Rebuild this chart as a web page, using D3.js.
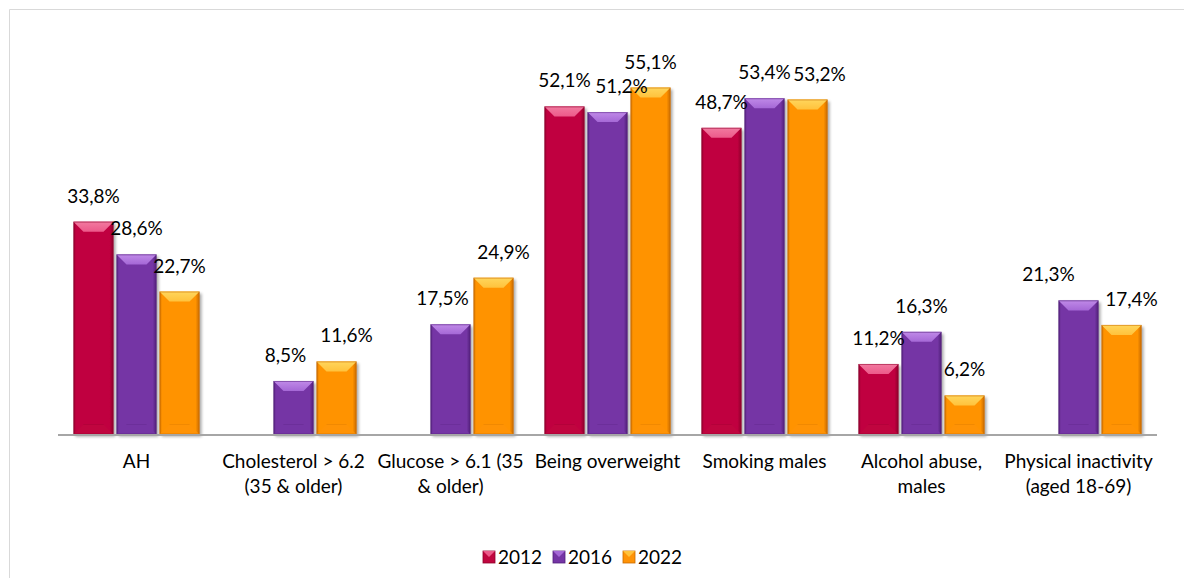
<!DOCTYPE html>
<html>
<head>
<meta charset="utf-8">
<script src="https://cdn.jsdelivr.net/npm/d3@7"></script>
<style>
  html, body { margin: 0; padding: 0; background: #fff; }
  svg { display: block; font-family: Lato, "Open Sans", sans-serif; }
</style>
</head>
<body>
<svg id="chart" width="1184" height="578"></svg>
<script>
// Risk factor prevalence by survey year
const categories = [
  "AH",
  "Cholesterol > 6.2\n(35 & older)",
  "Glucose > 6.1 (35\n& older)",
  "Being overweight",
  "Smoking males",
  "Alcohol abuse,\nmales",
  "Physical inactivity\n(aged 18-69)"
];
const years = ["2012", "2016", "2022"];
const values2012 = [33.8, null, null, 52.1, 48.7, 11.2, null];
const values2016 = [28.6, 8.5, 17.5, 51.2, 53.4, 16.3, 21.3];
const values2022 = [22.7, 11.6, 24.9, 55.1, 53.2, 6.2, 17.4];

// Horizontal nudges so neighbouring value labels don't collide
const labelShift2012 = [0, 0, 0, 0, 0, 0, 0];
const labelShift2016 = [0, -8, -8, 14, 0, 0, -30];
const labelShift2022 = [0, 10, 10, 0, 12, 0, 10];

const seriesValues = [values2012, values2016, values2022];
const labelShift = [labelShift2012, labelShift2016, labelShift2022];

const palette = {
  "2012": { face: "#c0063f", light: "#ec5a8a", dark: "#8e002c", top: "#f27aa0" },
  "2016": { face: "#7535a5", light: "#a568d6", dark: "#52207a", top: "#c08ae8" },
  "2022": { face: "#ff9306", light: "#ffc23c", dark: "#c86a00", top: "#ffd65c" }
};

const svg = d3.select("#chart");
const defs = svg.append("defs");

defs.append("filter").attr("id", "barShadow")
  .attr("x", "-20%").attr("y", "-10%").attr("width", "150%").attr("height", "130%")
  .call(f => {
    f.append("feGaussianBlur").attr("in", "SourceAlpha").attr("stdDeviation", 1.5).attr("result", "b");
    f.append("feOffset").attr("dx", 2).attr("dy", 2).attr("result", "o");
    f.append("feComponentTransfer").call(c => c.append("feFuncA").attr("type", "linear").attr("slope", 0.35));
    f.append("feMerge").call(m => { m.append("feMergeNode"); m.append("feMergeNode").attr("in", "SourceGraphic"); });
  });

years.forEach(y => {
  const p = palette[y];
  const g = defs.append("linearGradient").attr("id", "face" + y)
    .attr("x1", 0).attr("x2", 1).attr("y1", 0).attr("y2", 0);
  g.append("stop").attr("offset", "0%").attr("stop-color", p.dark);
  g.append("stop").attr("offset", "6%").attr("stop-color", p.face);
  g.append("stop").attr("offset", "90%").attr("stop-color", p.face);
  g.append("stop").attr("offset", "100%").attr("stop-color", p.dark);
  const t = defs.append("linearGradient").attr("id", "top" + y)
    .attr("x1", 0).attr("x2", 0).attr("y1", 0).attr("y2", 1);
  t.append("stop").attr("offset", "0%").attr("stop-color", p.top);
  t.append("stop").attr("offset", "100%").attr("stop-color", p.light);
});

// Outer frame of the chart area
svg.append("path")
  .attr("d", "M9.5,578 L9.5,9.5 L1184,9.5")
  .attr("fill", "none").attr("stroke", "#d9d9d9").attr("stroke-width", 1);

const x0 = d3.scaleBand()
  .domain(categories)
  .range([58, 1157])
  .paddingInner(0.197)
  .paddingOuter(0.0985);

const x1 = d3.scaleBand()
  .domain(years)
  .range([0, x0.bandwidth()])
  .paddingInner(0.07);

const y = d3.scaleLinear().domain([0, 60]).range([434.5, 56.7]);

const fmt = v => d3.format(".1f")(v).replace(".", ",") + "%";

// Bars
const rows = [];
categories.forEach((c, i) => {
  years.forEach((yr, s) => {
    const v = seriesValues[s][i];
    if (v != null) rows.push({ cat: c, year: yr, value: v, shift: labelShift[s][i] });
  });
});

const bars = svg.append("g").selectAll("g.bar").data(rows).join("g")
  .attr("class", "bar")
  .attr("transform", d => `translate(${x0(d.cat) + x1(d.year)},0)`);

bars.each(function(d) {
  const g = d3.select(this);
  const w = x1.bandwidth();
  const top = y(d.value);
  const h = y(0) - top;
  const p = palette[d.year];
  const b = Math.min(10, h / 2);
  g.append("rect")
    .attr("x", 0).attr("y", top).attr("width", w).attr("height", h)
    .attr("fill", `url(#face${d.year})`)
    .attr("filter", "url(#barShadow)");
  // top bevel
  g.append("path")
    .attr("d", `M0,${top} L${w},${top} L${w - b},${top + b} L${b},${top + b} Z`)
    .attr("fill", `url(#top${d.year})`);
  // bottom bevel
  g.append("path")
    .attr("d", `M0,${y(0)} L${w},${y(0)} L${w - b},${y(0) - b} L${b},${y(0) - b} Z`)
    .attr("fill", p.face).attr("opacity", 0.9);
  g.append("path")
    .attr("d", `M${b},${y(0) - b} L${w - b},${y(0) - b}`)
    .attr("stroke", p.dark).attr("stroke-opacity", 0.25).attr("stroke-width", 1);
  // outline
  g.append("rect")
    .attr("x", 0.5).attr("y", top + 0.5).attr("width", w - 1).attr("height", h - 1)
    .attr("fill", "none").attr("stroke", p.dark).attr("stroke-opacity", 0.5);
});

// Value labels
svg.append("g").selectAll("text").data(rows).join("text")
  .attr("x", d => x0(d.cat) + x1(d.year) + x1.bandwidth() / 2 + d.shift)
  .attr("y", d => y(d.value) - 19)
  .attr("text-anchor", "middle")
  .attr("font-size", 19)
  .attr("fill", "#000")
  .text(d => fmt(d.value));

// Baseline
svg.append("line")
  .attr("x1", 58).attr("x2", 1157)
  .attr("y1", y(0) + 0.5).attr("y2", y(0) + 0.5)
  .attr("stroke", "#a6a6a6").attr("stroke-width", 2);

// Category labels
const xAxis = svg.append("g");
categories.forEach(c => {
  const lines = c.split("\n");
  const t = xAxis.append("text")
    .attr("text-anchor", "middle")
    .attr("font-size", 19)
    .attr("fill", "#000");
  lines.forEach((ln, k) => {
    t.append("tspan")
      .attr("x", x0(c) + x0.bandwidth() / 2)
      .attr("y", 468 + k * 25)
      .text(ln);
  });
});

// Legend
const lg = svg.append("g").selectAll("g").data(years).join("g")
  .attr("transform", (d, i) => `translate(${483 + i * 70},551)`);
lg.append("rect").attr("width", 12).attr("height", 12).attr("fill", d => palette[d].face)
  .attr("stroke", d => palette[d].dark).attr("stroke-width", 0.8);
lg.append("path").attr("d", "M0,0 L12,0 L6,6 Z").attr("fill", d => palette[d].light);
lg.append("text").attr("x", 15).attr("y", 6).attr("dy", "0.35em")
  .attr("font-size", 19).attr("fill", "#000").text(d => d);
</script>
</body>
</html>
